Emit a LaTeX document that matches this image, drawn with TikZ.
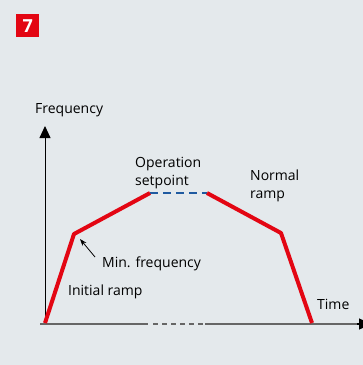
\documentclass[tikz,border=0pt]{standalone}
\usepackage{fontspec}
\setmainfont{Open Sans}
\usetikzlibrary{arrows.meta}
\definecolor{bg}{HTML}{E4E9EC}
\definecolor{redc}{HTML}{E30613}
\definecolor{bluec}{HTML}{1F5AA0}
\definecolor{axisc}{HTML}{666666}
\tikzset{
  lbl/.style={font=\fontsize{14}{17}\selectfont, anchor=base west, inner sep=0pt, text=black},
  ramp/.style={draw=redc, line width=4pt, line join=round},
}
\begin{document}
\begin{tikzpicture}[x=1pt,y=-1pt]
\fill[bg] (0,0) rectangle (363,365);
\useasboundingbox (0,0) rectangle (363,365);
% badge
\node[fill=redc, minimum size=23pt, inner sep=0pt, anchor=north west, text=white, font=\bfseries\fontsize{18}{18}\selectfont] (badge) at (16,14) {7};
% axes
\coordinate (o) at (45,324);
\coordinate (ytop) at (45,126);
\coordinate (xl) at (40,324);
\coordinate (xd1) at (148,324);
\coordinate (xd2) at (205,324);
\coordinate (xr) at (363,324);
\draw[line width=0.9pt, -{Triangle[length=12pt,width=11pt]}] (o) -- (ytop);
\draw[axisc, line width=1.5pt] (xl) -- (xd1);
\draw[axisc, line width=1.5pt, dash pattern=on 5pt off 4pt] ([xshift=5pt]xd1) -- (xd2);
\draw[axisc, line width=1.5pt] (xd2) -- (xr);
\draw[black, line width=1.5pt, -{Triangle[length=12pt,width=11pt]}] ([xshift=-6pt]xr) -- ([xshift=8pt]xr);
% curve
\coordinate (p0) at (45,323);
\coordinate (p1) at (74,234);
\coordinate (p2) at (150,193);
\coordinate (p3) at (207,193);
\coordinate (p4) at (281,233);
\coordinate (p5) at (312,323);
\draw[bluec, line width=2.5pt, dash pattern=on 8pt off 5pt] (p2) -- (p3);
\draw[ramp] (p0) -- (p1) -- (p2);
\draw[ramp] (p3) -- (p4) -- (p5);
% labels
\node[lbl] (freq) at (35,113) {Frequency};
\node[lbl] (op) at (135,167) {Operation};
\node[lbl] (sp) at (135,185) {setpoint};
\node[lbl] (nr1) at (250,180) {Normal};
\node[lbl] (nr2) at (250,198) {ramp};
\node[lbl] (minf) at (102,267) {Min. frequency};
\node[lbl] (init) at (68,295) {Initial ramp};
\node[lbl] (time) at (317,309) {Time};
\coordinate (atail) at (95,257);
\coordinate (ahead) at (80,239);
\draw[line width=0.8pt, -{Stealth[length=7pt,width=5pt]}] (atail) -- (ahead);
\end{tikzpicture}
\end{document}
